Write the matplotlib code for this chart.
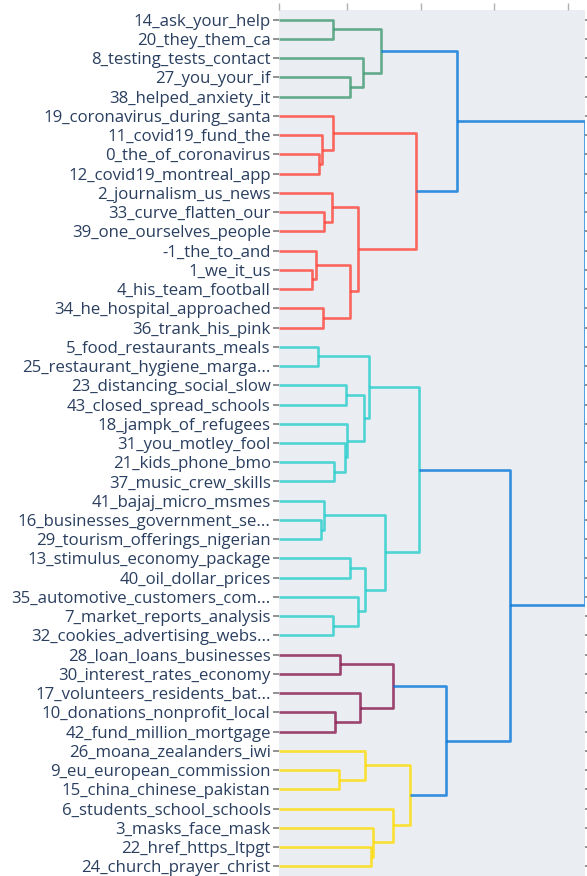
import matplotlib
matplotlib.use("Agg")
import matplotlib.pyplot as plt

# leaf labels, top to bottom
labels = [
    "14_ask_your_help", "20_they_them_ca", "8_testing_tests_contact",
    "27_you_your_if", "38_helped_anxiety_it", "19_coronavirus_during_santa",
    "11_covid19_fund_the", "0_the_of_coronavirus", "12_covid19_montreal_app",
    "2_journalism_us_news", "33_curve_flatten_our", "39_one_ourselves_people",
    "-1_the_to_and", "1_we_it_us", "4_his_team_football",
    "34_he_hospital_approached", "36_trank_his_pink", "5_food_restaurants_meals",
    "25_restaurant_hygiene_marga...", "23_distancing_social_slow",
    "43_closed_spread_schools", "18_jampk_of_refugees", "31_you_motley_fool",
    "21_kids_phone_bmo", "37_music_crew_skills", "41_bajaj_micro_msmes",
    "16_businesses_government_se...", "29_tourism_offerings_nigerian",
    "13_stimulus_economy_package", "40_oil_dollar_prices",
    "35_automotive_customers_com...", "7_market_reports_analysis",
    "32_cookies_advertising_webs...", "28_loan_loans_businesses",
    "30_interest_rates_economy", "17_volunteers_residents_bat...",
    "10_donations_nonprofit_local", "42_fund_million_mortgage",
    "26_moana_zealanders_iwi", "9_eu_european_commission",
    "15_china_chinese_pakistan", "6_students_school_schools",
    "3_masks_face_mask", "22_href_https_ltpgt", "24_church_prayer_christ",
]

# merges: node ids 0..44 are leaves, merge k creates node 45+k
merge_left = [0, 3, 2, 45,
              7, 6, 5, 10, 9, 13, 12, 15, 55, 53, 51, 48,
              17, 19, 23, 22, 21, 62, 61, 26, 25, 28, 31, 30, 70, 69, 67,
              33, 36, 35, 76,
              39, 38, 43, 42, 41, 81,
              79, 75, 60]
merge_right = [1, 4, 46, 47,
               8, 49, 50, 11, 52, 14, 54, 16, 56, 57, 58, 59,
               18, 20, 24, 63, 64, 65, 66, 27, 68, 29, 32, 71, 72, 73, 74,
               34, 37, 77, 78,
               40, 80, 44, 82, 83, 84,
               85, 86, 87]
merge_height = [0.367, 0.482, 0.573, 0.693,
                0.274, 0.290, 0.369, 0.308, 0.360, 0.222, 0.253, 0.301, 0.482, 0.537, 0.931, 1.209,
                0.265, 0.457, 0.374, 0.448, 0.462, 0.579, 0.609, 0.283, 0.308, 0.482, 0.369, 0.539, 0.586, 0.718, 0.949,
                0.416, 0.380, 0.550, 0.776,
                0.410, 0.582, 0.625, 0.637, 0.776, 0.890,
                1.132, 1.569, 2.079]
merge_group = ["g"] * 4 + ["r"] * 11 + ["b"] + ["c"] * 15 + ["p"] * 4 + ["y"] * 6 + ["b"] * 3

colors = {
    "b": "#0074D9",
    "c": "#23CDCD",
    "g": "#3D9970",
    "r": "#FF4136",
    "p": "#85144B",
    "y": "#FFDC00",
}

fig = plt.figure(figsize=(5.87, 8.76), dpi=100)
ax = fig.add_axes([279 / 587, 0.0, 306 / 587, 866 / 876])
ax.set_facecolor("#EAEDF1")

n = len(labels)
node_x = [0.0] * n
node_y = list(range(n))

for l, r, h, g in zip(merge_left, merge_right, merge_height, merge_group):
    xs = [node_x[l], h, h, node_x[r]]
    ys = [node_y[l], node_y[l], node_y[r], node_y[r]]
    ax.plot(xs, ys, color=colors[g], lw=1.9, alpha=0.78, solid_capstyle="butt")
    node_x.append(h)
    node_y.append((node_y[l] + node_y[r]) / 2)

ax.set_xlim(0, max(merge_height))
ax.set_ylim(n - 0.5, -0.5)

ax.set_yticks(range(n))
ax.set_yticklabels(labels, family=["Open Sans", "DejaVu Sans"], fontsize=12.1,
                   color="#2a3f5f")
ax.tick_params(axis="y", length=4, width=1.2, color="#7f7f7f", pad=2,
               right=True)

ax.xaxis.tick_top()
ax.set_xticks([0.003, 0.462, 0.965, 1.461, 1.963])
ax.set_xticklabels([])
ax.tick_params(axis="x", length=5, width=1.0, color="#b0b0b0")

for s in ax.spines.values():
    s.set_visible(False)

fig.savefig("out.png", dpi=100)
